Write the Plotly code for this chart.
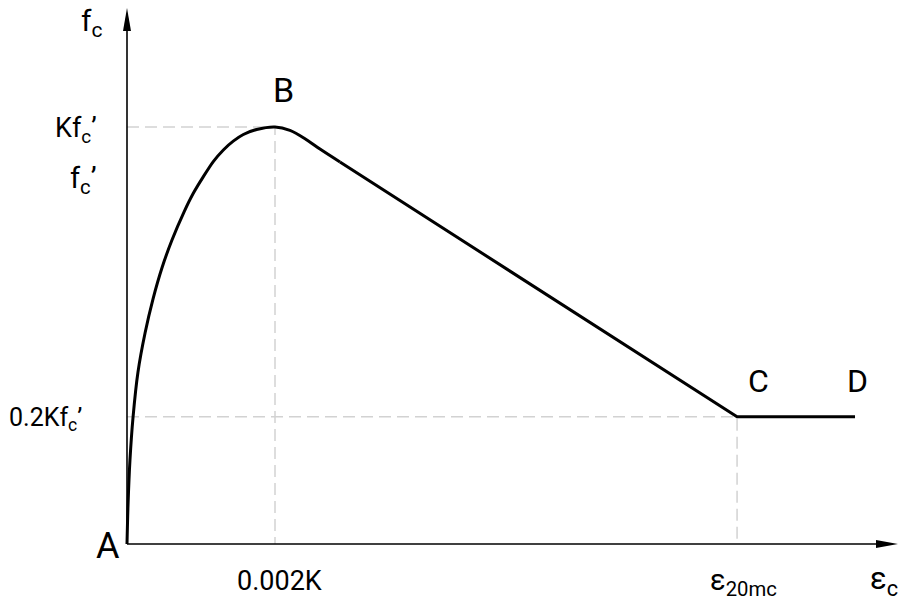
import plotly.graph_objects as go

# figure is 905x603, plot area covers the whole page (margins 0)
W, H = 905, 603
X0, Y0 = 127, 544      # pixel of origin A
SX, SY = 148, 417      # pixels per unit (strain / 0.002K, stress / Kfc')

# ascending branch up to B and the rounded start of the softening branch
strain_up = [0, 0.007, 0.020, 0.041, 0.074, 0.122, 0.176, 0.236, 0.304, 0.385,
             0.448, 0.516, 0.583, 0.651, 0.718, 0.786, 0.876, 1.0,
             1.101, 1.203, 1.304, 1.439]
stress_up = [0, 0.094, 0.201, 0.305, 0.412, 0.506, 0.588, 0.662, 0.729, 0.796,
             0.841, 0.881, 0.917, 0.945, 0.966, 0.982, 0.994, 1.0,
             0.992, 0.972, 0.947, 0.916]

# linear descending branch towards C and plateau C -> D
strain_down = [1.439, 4.122, 4.919]
stress_down = [0.916, 0.305, 0.305]

eps_peak = 1.0       # 0.002K
eps_20 = 4.122       # eps_20mc
f_peak = 1.0         # Kfc'
f_res = 0.305        # 0.2Kfc'

x_axis_end = 5.209
y_axis_end = 1.285


def px(x):
    return (x - X0) / SX


def py(y):
    return (Y0 - y) / SY


def paper(x, y):
    return x / W, 1 - y / H


fig = go.Figure()

grid = dict(color="#d2d2d2", width=1.5, dash="12px,6px")
fig.add_trace(go.Scatter(x=[0, eps_peak, eps_peak], y=[f_peak, f_peak, 0],
                         mode="lines", line=grid, hoverinfo="skip"))
fig.add_trace(go.Scatter(x=[0, eps_20, eps_20], y=[f_res, f_res, 0],
                         mode="lines", line=grid, hoverinfo="skip"))

fig.add_trace(go.Scatter(x=strain_up, y=stress_up, mode="lines",
                         line=dict(color="black", width=3, shape="spline", smoothing=0.8)))
fig.add_trace(go.Scatter(x=strain_down, y=stress_down, mode="lines",
                         line=dict(color="black", width=3)))

# axes with arrow heads
shapes = [
    dict(type="line", x0=0, y0=0, x1=x_axis_end - 0.1, y1=0, line=dict(color="black", width=1.6)),
    dict(type="line", x0=0, y0=0, x1=0, y1=y_axis_end - 0.03, line=dict(color="black", width=1.6)),
    dict(type="path", line=dict(width=0), fillcolor="black",
         path=f"M {px(898)},{py(544)} L {px(876)},{py(540)} L {px(876)},{py(548)} Z"),
    dict(type="path", line=dict(width=0), fillcolor="black",
         path=f"M {px(127)},{py(8)} L {px(123)},{py(31)} L {px(131)},{py(31)} Z"),
]

FONT = "Roboto, Arial, sans-serif"
labels = [
    # text, x px, y px, size, xanchor
    ("f<sub>c</sub>", 91, 22, 30, "center"),
    ("B", 283, 90, 34, "center"),
    ("Kf<sub>c</sub>’", 99, 130, 27, "right"),
    ("f<sub>c</sub>’", 99, 180, 29, "right"),
    ("0.2Kf<sub>c</sub>’", 84, 419, 25, "right"),
    ("A", 108, 546, 36, "center"),
    ("C", 758, 381, 32, "center"),
    ("D", 857, 381, 32, "center"),
    ("0.002K", 279, 581, 27, "center"),
    ("ε<sub>20mc</sub>", 743, 582, 29, "center"),
    ("ε<sub>c</sub>", 884, 580, 31, "center"),
]
annotations = []
for text, x, y, size, anchor in labels:
    ax_, ay_ = paper(x, y)
    annotations.append(dict(text=text, x=ax_, y=ay_, xref="paper", yref="paper",
                            xanchor=anchor, yanchor="middle", showarrow=False,
                            font=dict(family=FONT, size=size, color="black")))

fig.update_layout(
    width=W, height=H,
    margin=dict(l=0, r=0, t=0, b=0),
    paper_bgcolor="white", plot_bgcolor="white",
    showlegend=False,
    shapes=shapes,
    annotations=annotations,
    xaxis=dict(range=[px(0), px(W)], visible=False, fixedrange=True),
    yaxis=dict(range=[py(H), py(0)], visible=False, fixedrange=True),
)

fig.write_html("out.html", config={"displayModeBar": False},
               post_script="document.body.style.margin='0';document.body.style.overflow='hidden';")
